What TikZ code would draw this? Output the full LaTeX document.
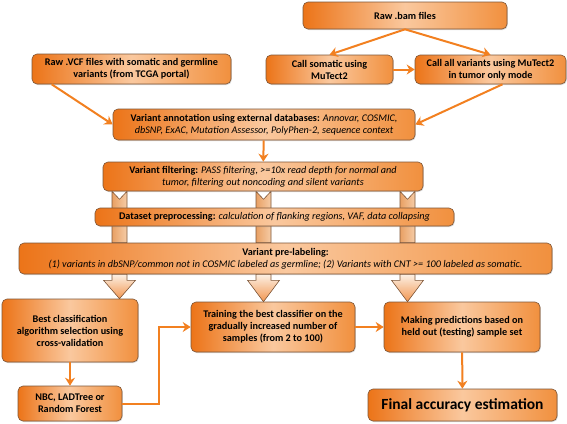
\documentclass[tikz,border=0pt]{standalone}
\usepackage{fontspec}
\setmainfont{Carlito}
\usetikzlibrary{arrows.meta,calc,shadows,backgrounds}
\definecolor{boxdark}{RGB}{236,116,24}
\definecolor{boxmid}{RGB}{241,144,62}
\definecolor{boxlight}{RGB}{250,200,158}
\definecolor{boxedge}{RGB}{125,85,55}
\definecolor{linkorange}{RGB}{242,128,32}
\definecolor{blockleft}{RGB}{232,160,100}
\definecolor{blockright}{RGB}{246,204,166}
\definecolor{blocktop}{RGB}{252,240,228}
\definecolor{blockbot}{RGB}{242,150,80}
\newcommand{\detail}[1]{{\mdseries\itshape #1}}

\begin{document}
\begin{tikzpicture}[x=1pt, y=-1pt,
  box/.style={rounded corners=5pt, draw=boxedge, line width=0.6pt,
    left color=boxdark, right color=boxmid, middle color=boxlight,
    align=center, inner sep=1pt,
    font=\fontsize{10.2}{12}\selectfont\bfseries,
    drop shadow={shadow xshift=0.8pt, shadow yshift=-1pt, opacity=0.3}},
  link/.style={draw=linkorange, line width=2pt, -{Stealth[length=8pt, width=10pt]}},
  blockdown/.style={draw=boxedge, line width=0.6pt, left color=blockleft, right color=blockright},
  blockout/.style={draw=boxedge, line width=0.6pt, top color=blocktop, bottom color=blockbot}]
\useasboundingbox (0,0) rectangle (567,423);

% inputs
\node[box, minimum width=204pt, minimum height=27pt] (bam) at (405,15.5) {Raw .bam files};
\node[box, minimum width=199pt, minimum height=30pt] (vcf) at (131.5,69) {Raw .VCF files with somatic and germline\\variants (from TCGA portal)};
\node[box, minimum width=127pt, minimum height=29pt] (som) at (329.5,69.5) {Call somatic using\\MuTect2};
\node[box, minimum width=151pt, minimum height=29pt] (all) at (490.5,69.5) {Call all variants using MuTect2\\in tumor only mode};

% processing
\node[box, minimum width=302pt, minimum height=31pt] (ann) at (264,124.5) {Variant annotation using external databases: \detail{Annovar, COSMIC,}\\\detail{dbSNP, ExAC, Mutation Assessor, PolyPhen-2, sequence context}};
\node[box, minimum width=320pt, minimum height=29pt] (filt) at (263,176.5) {Variant filtering: \detail{PASS filtering, >=10x read depth for normal and}\\\detail{tumor, filtering out noncoding and silent variants}};
\node[box, minimum width=359pt, minimum height=18pt] (prep) at (274.5,217) {Dataset preprocessing: \detail{calculation of flanking regions, VAF, data collapsing}};
\node[box, minimum width=533pt, minimum height=31pt] (prel) at (285.5,258.5) {Variant pre-labeling:\\\detail{(1) variants in dbSNP/common not in COSMIC labeled as germline; (2) Variants with CNT >= 100 labeled as somatic.}};

% classification
\node[box, minimum width=136pt, minimum height=63pt] (best) at (70,330.5) {Best classification\\algorithm selection using\\cross-validation};
\node[box, minimum width=104pt, minimum height=35pt] (nbc) at (70,403.5) {NBC, LADTree or\\Random Forest};
\node[box, minimum width=164pt, minimum height=50pt] (train) at (273,327) {Training the best classifier on the\\gradually increased number of\\samples (from 2 to 100)};
\node[box, minimum width=156pt, minimum height=50pt] (make) at (462,327) {Making predictions based on\\held out (testing) sample set};
\node[box, minimum width=189pt, minimum height=32pt, font=\fontsize{15.5}{18}\selectfont\bfseries] (final) at (462.5,405) {Final accuracy estimation};

% connectors
\draw[link] (bam.south) -- (som.north);
\draw[link] (bam.south) -- (all.north);
\draw[link] (som) -- (all);
\draw[link] ($(vcf.south west)!0.1!(vcf.south east)$) -- (ann.west);
\draw[link] ($(all.south)+(12,0)$) -- (ann.east);
\draw[link] (ann) -- (filt);
\draw[link] (best) -- (nbc);
\draw[link] (nbc.east) -- ++(37,0) |- (train.west);
\draw[link] (train) -- (make);
\draw[link] (make) -- (final);

% block arrows
\begin{scope}[on background layer]
\foreach \x in {119.5,263.5,407.5}
  \draw[blockdown] ($(filt.south -| \x,0)+(-7.5,0)$) -- ($(filt.south -| \x,0)+(0,8)$)
    -- ($(filt.south -| \x,0)+(7.5,0)$) -- ($(prel.north -| \x,0)+(7.5,0)$)
    -- ($(prel.north -| \x,0)+(-7.5,0)$) -- cycle;
\end{scope}
\foreach \x/\to in {119.5/best,263.5/train,407.5/make}
  \draw[blockout] ($(prel.south -| \x,0)+(-7.5,0)$) -- ($(prel.south -| \x,0)+(7.5,0)$)
    -- ($(prel.south -| \x,0)+(7.5,6)$) -- ($(prel.south -| \x,0)+(16,6)$)
    -- (\to.north -| \x,0) -- ($(prel.south -| \x,0)+(-16,6)$)
    -- ($(prel.south -| \x,0)+(-7.5,6)$) -- cycle;
\end{tikzpicture}
\end{document}
